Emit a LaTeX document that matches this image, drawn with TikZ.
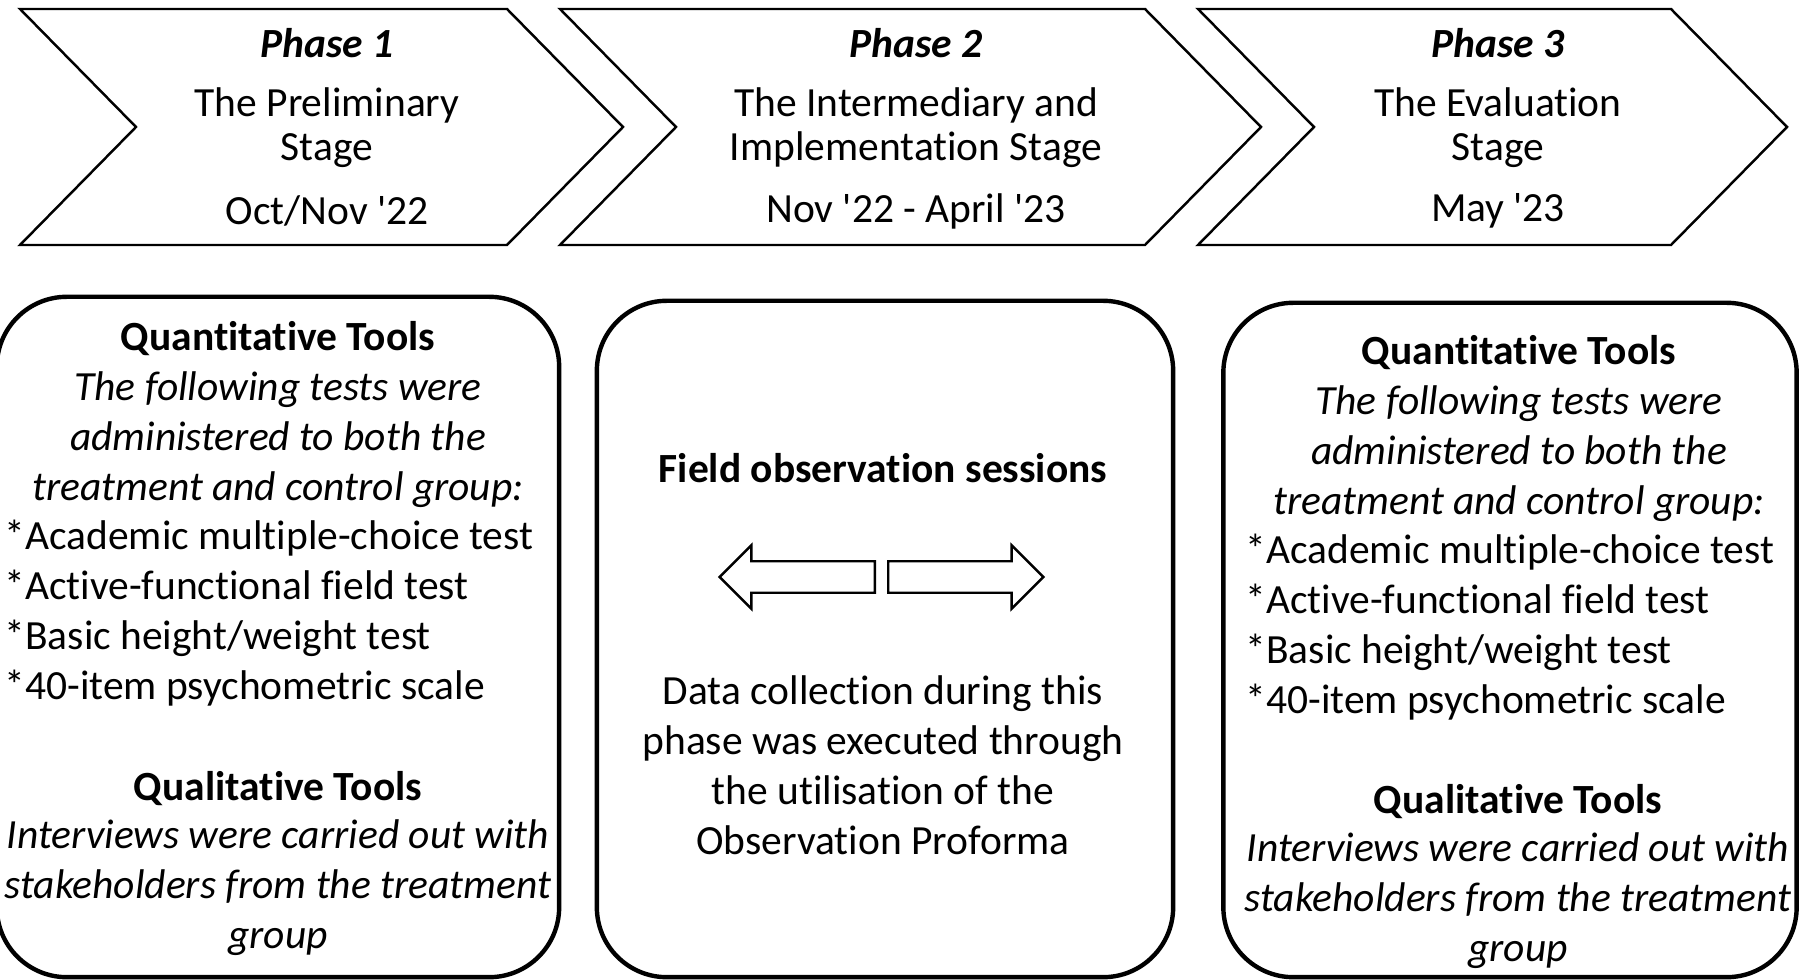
\documentclass[tikz,border=0pt]{standalone}
\usepackage{fontspec}
\setmainfont{Carlito}[Ligatures={NoCommon}]
\usepackage{tikz}
\usetikzlibrary{positioning}
\usetikzlibrary{shapes.arrows}
\newcommand{\txtsize}{\fontsize{11.8}{14.2}\selectfont}
\newcommand{\phsize}{\fontsize{11.8}{12.5}\selectfont}
\tikzstyle{every node}+=[inner sep=0pt]
\tikzstyle{phase} = [draw, line width=0.7pt, line join=miter]
\tikzstyle{title} = [font=\phsize\bfseries\itshape]
\tikzstyle{stage} = [font=\phsize, align=center]
\tikzstyle{tools} = [rectangle, draw, line width=1.25pt, rounded corners=0.7cm]
\tikzstyle{head} = [font=\txtsize\bfseries]
\tikzstyle{note} = [font=\txtsize\itshape, align=center]
\tikzstyle{items} = [font=\txtsize, align=left, anchor=west]
\tikzstyle{plain} = [font=\txtsize, align=center]
\tikzstyle{flow} = [single arrow, draw, line width=0.7pt, inner ysep=0.145cm, minimum height=1.55cm, minimum width=0.61cm, single arrow head extend=0.16cm, single arrow tip angle=90, anchor=tail]

\begin{document}
\begin{tikzpicture}[x=0.01cm, y=-0.01cm]
            \useasboundingbox (0,0) rectangle (1800,980);
            % Phase chevrons
            \foreach \l/\r in {20/507, 560/1145, 1198/1671}
                \draw [phase] (\l,9) -- (\r,9) -- (\r+116,127) -- (\r,245) -- (\l,245) -- (\l+116,127) -- cycle;
            \node [title] (ph1) at (327,43) {Phase 1};
            \node [stage] (st1) at (327,128) {The Preliminary\\Stage};
            \node [stage] (dt1) at (327,211) {Oct/Nov \textquotesingle22};
            \node [title] (ph2) at (916,43) {Phase 2};
            \node [stage] (st2) at (916,128) {The Intermediary and\\Implementation Stage};
            \node [stage] (dt2) at (916,211) {Nov \textquotesingle22 - April \textquotesingle23};
            \node [title] (ph3) at (1498,43) {Phase 3};
            \node [stage] (st3) at (1498,128) {The Evaluation\\Stage};
            \node [stage] (dt3) at (1498,211) {May \textquotesingle23};
            % Phase 1 tools
            \node [tools, minimum width=5.62cm, minimum height=6.8cm] (b1) at (278,637) {};
            \node [head] (q1) at (278,339) {Quantitative Tools};
            \node [note] (n1) at (278,440) {The following tests were\\administered to both the\\treatment and control group:};
            \node [items] (i1) at (4,613) {*Academic multiple-choice test\\*Active-functional field test\\*Basic height/weight test\\*40-item psychometric scale};
            \node [head] (l1) at (278,789) {Qualitative Tools};
            \node [note] (v1) at (278,888) {Interviews were carried out with\\stakeholders from the treatment\\group};
            % Phase 2 observation
            \node [tools, minimum width=5.76cm, minimum height=6.76cm] (b2) at (885,639) {};
            \node [head] (f2) at (883,468) {Field observation sessions};
            \node [flow, shape border rotate=180] (al) at (876,577) {};
            \node [flow] (ar) at ([xshift=0.11cm]al.tail) {};
            \node [plain] (d2) at (883,765) {Data collection during this\\phase was executed through\\the utilisation of the\\Observation Proforma};
            % Phase 3 tools
            \node [tools, minimum width=5.73cm, minimum height=6.74cm] (b3) at (1510,640) {};
            \node [head] (q3) at (1519,353) {Quantitative Tools};
            \node [note] (n3) at (1519,454) {The following tests were\\administered to both the\\treatment and control group:};
            \node [items] (i3) at (1245,627) {*Academic multiple-choice test\\*Active-functional field test\\*Basic height/weight test\\*40-item psychometric scale};
            \node [head] (l3) at (1518,802) {Qualitative Tools};
            \node [note] (v3) at (1518,901) {Interviews were carried out with\\stakeholders from the treatment\\group};
\end{tikzpicture}
\end{document}
